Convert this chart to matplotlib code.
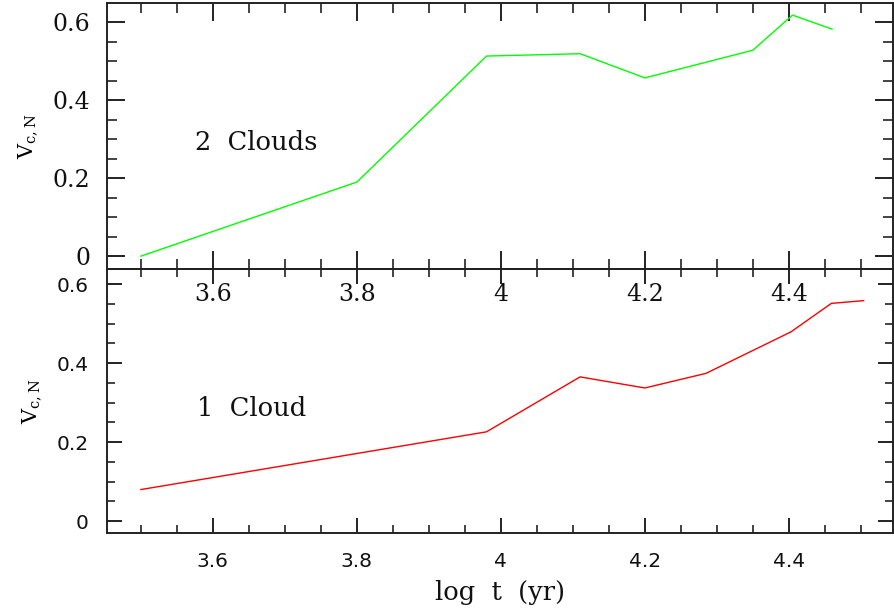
import numpy as np
import matplotlib
matplotlib.use("Agg")
import matplotlib.pyplot as plt
from matplotlib.ticker import MultipleLocator, FuncFormatter

# log t (yr) and V_c,N for the two cases
logt_two = [3.50, 3.80, 3.98, 4.11, 4.20, 4.35, 4.405, 4.46]
vcn_two = [0.00, 0.19, 0.513, 0.519, 0.457, 0.528, 0.618, 0.582]

logt_one = [3.50, 3.98, 4.11, 4.20, 4.285, 4.403, 4.459, 4.504]
vcn_one = [0.080, 0.226, 0.365, 0.337, 0.374, 0.479, 0.551, 0.558]

plt.rcParams['mathtext.fontset'] = 'dejavuserif'

fig = plt.figure(figsize=(8.95, 6.15), dpi=100)
ax_top = fig.add_axes([0.1196, 0.5626, 0.8784, 0.4325])
ax_bot = fig.add_axes([0.1196, 0.1333, 0.8784, 0.4293])
# top panel on top so its x labels are not hidden by the lower panel
ax_top.set_zorder(3)
ax_top.patch.set_alpha(0)


def fmt(v, pos):
    return f"{v:g}"


for ax in (ax_top, ax_bot):
    ax.set_xlim(3.453, 4.545)
    ax.xaxis.set_major_locator(MultipleLocator(0.2))
    ax.xaxis.set_minor_locator(MultipleLocator(0.05))
    ax.yaxis.set_major_locator(MultipleLocator(0.2))
    ax.yaxis.set_minor_locator(MultipleLocator(0.05))
    ax.xaxis.set_major_formatter(FuncFormatter(fmt))
    ax.yaxis.set_major_formatter(FuncFormatter(fmt))
    for sp in ax.spines.values():
        sp.set_linewidth(1.4)
        sp.set_color('#222222')

ax_top.set_ylim(-0.033, 0.649)
ax_bot.set_ylim(-0.030, 0.638)

ax_top.plot(logt_two, vcn_two, color='#00ff00', lw=1.0)
ax_bot.plot(logt_one, vcn_one, color='#ff0000', lw=1.0)

ax_top.tick_params(which='major', direction='in', top=True, right=True,
                   length=13, width=1.4, labelsize=17, color='#222222',
                   labelfontfamily='DejaVu Serif', labelcolor='#111111')
ax_top.tick_params(axis='x', which='major', pad=10)
ax_top.tick_params(axis='y', which='major', pad=12)
ax_top.tick_params(which='minor', direction='in', top=True, right=True,
                   length=7, width=1.2, color='#222222')
ax_bot.tick_params(which='major', direction='in', top=True, right=True,
                   length=11, width=1.4, labelsize=14.5, color='#222222',
                   labelfontfamily='DejaVu Sans', labelcolor='#111111')
ax_bot.tick_params(axis='x', which='major', pad=14)
ax_bot.tick_params(axis='y', which='major', pad=13)
ax_bot.tick_params(which='minor', direction='in', top=True, right=True,
                   length=6, width=1.2, color='#222222')

ax_top.set_ylabel(r'$\mathrm{V}_{\mathrm{c,N}}$', fontsize=15, labelpad=10)
ax_bot.set_ylabel(r'$\mathrm{V}_{\mathrm{c,N}}$', fontsize=15, labelpad=10)
ax_bot.set_xlabel('log  t  (yr)', fontsize=18.5, family='DejaVu Serif', labelpad=6,
                  color='#111111')

ax_top.text(3.575, 0.292, '2  Clouds', fontsize=18.5, family='DejaVu Serif',
            va='center', ha='left', color='#111111')
ax_bot.text(3.578, 0.286, '1  Cloud', fontsize=18.5, family='DejaVu Serif',
            va='center', ha='left', color='#111111')

fig.savefig('out.png', dpi=100)
